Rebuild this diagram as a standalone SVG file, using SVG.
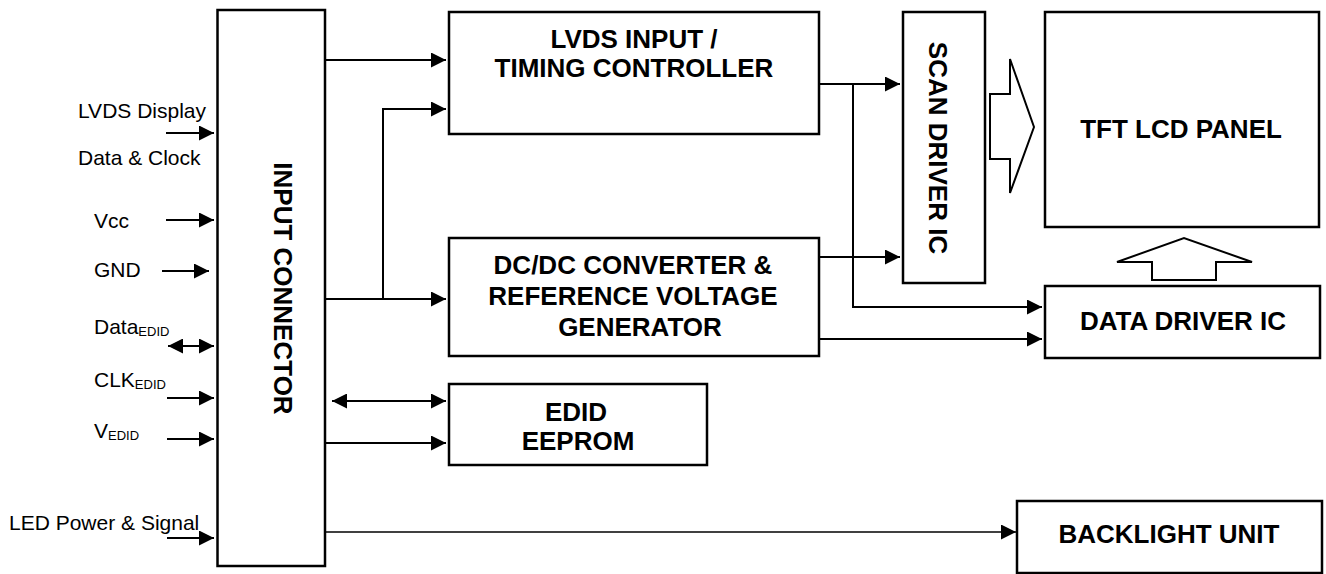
<svg xmlns="http://www.w3.org/2000/svg" width="1326" height="574" viewBox="0 0 1326 574">
<style>
  .box { fill: #fff; stroke: #000; stroke-width: 2.5; }
  .hollow { fill: #fff; stroke: #000; stroke-width: 2; stroke-linejoin: miter; }
  .b { font-family: "Liberation Sans", Arial, Helvetica, sans-serif; font-weight: bold; font-size: 26px; fill: #000; text-anchor: middle; }
  .r { font-family: "Liberation Sans", Arial, Helvetica, sans-serif; font-size: 21px; fill: #000; }
  .sub { font-size: 13px; }
  .c { fill: none; stroke: #000; stroke-width: 2; }
  .arr { marker-end: url(#ah); }
  .dbl { marker-start: url(#ah); marker-end: url(#ah); }
</style>
<defs>
  <marker id="ah" markerUnits="userSpaceOnUse" markerWidth="15" markerHeight="15" refX="15" refY="7.5" orient="auto-start-reverse">
    <path d="M0,0 L15,7.5 L0,15 z" fill="#000"/>
  </marker>
</defs>
<rect width="1326" height="574" fill="#fff"/>

<g id="labels">
  <text class="r" x="78" y="118">LVDS Display</text>
  <text class="r" x="78" y="165">Data &amp; Clock</text>
  <text class="r" x="94" y="228">Vcc</text>
  <text class="r" x="94" y="277">GND</text>
  <text class="r" x="94" y="334">Data<tspan class="sub" dy="2">EDID</tspan></text>
  <text class="r" x="94" y="387">CLK<tspan class="sub" dy="2">EDID</tspan></text>
  <text class="r" x="94" y="438">V<tspan class="sub" dy="2">EDID</tspan></text>
  <text class="r" x="9" y="530">LED Power &amp; Signal</text>
</g>

<g id="connectors">
  <path class="c arr" d="M166,133 H214"/>
  <path class="c arr" d="M166,220 H214"/>
  <path class="c arr" d="M162,271 H209"/>
  <path class="c dbl" d="M168,346 H214"/>
  <path class="c arr" d="M167,398 H214"/>
  <path class="c arr" d="M167,439 H214"/>
  <path class="c arr" d="M167,538 H214"/>
  <path class="c arr" d="M325,60 H446"/>
  <path class="c arr" d="M383,299 V109 H446"/>
  <path class="c arr" d="M325,299 H446"/>
  <path class="c dbl" d="M332,401 H446"/>
  <path class="c arr" d="M325,443 H446"/>
  <path class="c arr" style="stroke-width:1.5" d="M326,532 H1016"/>
  <path class="c arr" d="M819,84 H900"/>
  <path class="c arr" d="M853,84 V307 H1042"/>
  <path class="c arr" d="M819,257 H900"/>
  <path class="c arr" d="M819,339 H1042"/>
</g>

<g id="input-connector">
  <rect class="box" x="217.5" y="10" width="107.5" height="556"/>
  <text class="b" transform="translate(274,288.5) rotate(90)">INPUT CONNECTOR</text>
</g>

<g id="lvds-timing">
  <rect class="box" x="449" y="12" width="370" height="122"/>
  <text class="b" x="634" y="48">LVDS INPUT /</text>
  <text class="b" x="634" y="77">TIMING CONTROLLER</text>
</g>

<g id="dcdc">
  <rect class="box" x="449" y="238" width="370" height="118"/>
  <text class="b" x="633" y="274">DC/DC CONVERTER &amp;</text>
  <text class="b" x="633" y="305">REFERENCE VOLTAGE</text>
  <text class="b" x="640" y="336">GENERATOR</text>
</g>

<g id="edid">
  <rect class="box" x="449" y="384" width="258" height="81"/>
  <text class="b" x="576" y="421">EDID</text>
  <text class="b" x="578" y="450">EEPROM</text>
</g>

<g id="scan-driver">
  <rect class="box" x="903" y="12" width="82" height="271"/>
  <text class="b" transform="translate(929,148) rotate(90)">SCAN DRIVER IC</text>
</g>

<g id="tft-panel">
  <rect class="box" x="1045" y="12" width="274" height="215"/>
  <text class="b" x="1181" y="138">TFT LCD PANEL</text>
</g>

<g id="data-driver">
  <rect class="box" x="1045" y="286" width="275" height="72"/>
  <text class="b" x="1183" y="330">DATA DRIVER IC</text>
</g>

<g id="backlight">
  <rect class="box" x="1017" y="501" width="305" height="72"/>
  <text class="b" x="1169" y="543">BACKLIGHT UNIT</text>
</g>

<g id="bus-arrows">
  <polygon class="hollow" points="990,94 1010,94 1010,59 1034,127 1010,193 1010,159 990,159"/>
  <polygon class="hollow" points="1152,280 1216,280 1216,262 1252,262 1184,238 1117,262 1152,262"/>
</g>
</svg>
